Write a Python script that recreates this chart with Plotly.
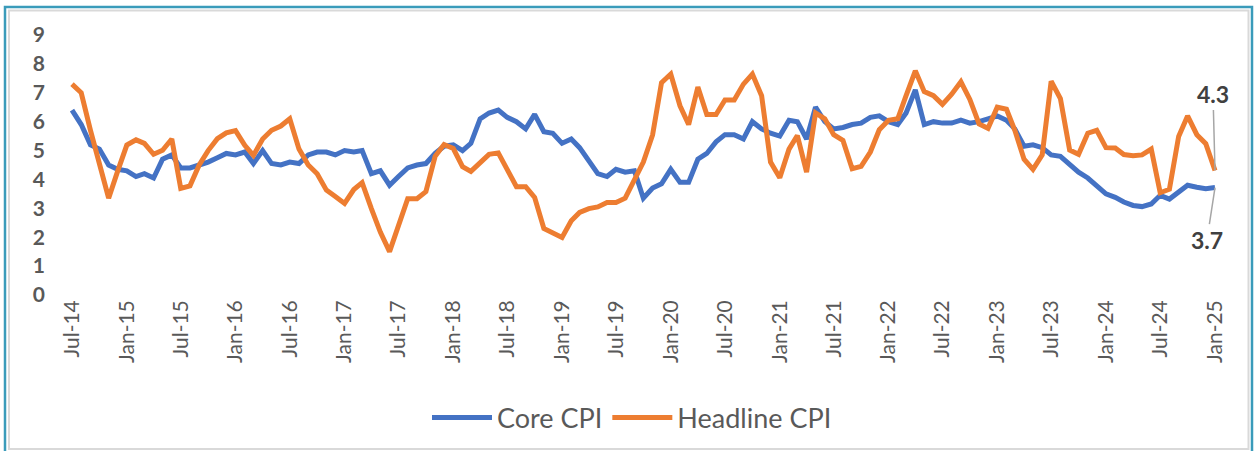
import pandas as pd
import plotly.graph_objects as go

# ---------------- data ----------------
start_month = "2014-07-01"
n_months = 127
months = pd.date_range(start_month, periods=n_months, freq="MS")

core_cpi = [
    6.4, 5.9, 5.2, 5.05, 4.5, 4.35,                                   # 2014 Jul-Dec
    4.3, 4.1, 4.2, 4.05, 4.7, 4.85, 4.4, 4.4, 4.5, 4.6, 4.75, 4.9,     # 2015
    4.85, 4.95, 4.55, 5.0, 4.55, 4.5, 4.6, 4.55, 4.85, 4.95, 4.95, 4.85,  # 2016
    5.0, 4.95, 5.0, 4.2, 4.3, 3.8, 4.1, 4.4, 4.5, 4.55, 4.9, 5.15,    # 2017
    5.2, 5.0, 5.25, 6.1, 6.3, 6.4, 6.15, 6.0, 5.75, 6.25, 5.65, 5.6,  # 2018
    5.25, 5.4, 5.1, 4.65, 4.2, 4.1, 4.35, 4.25, 4.3, 3.35, 3.7, 3.85, # 2019
    4.35, 3.9, 3.9, 4.7, 4.9, 5.3, 5.55, 5.55, 5.4, 6.0, 5.75, 5.6,   # 2020
    5.5, 6.05, 6.0, 5.4, 6.5, 6.0, 5.75, 5.8, 5.9, 5.95, 6.15, 6.2,   # 2021
    6.0, 5.9, 6.3, 7.1, 5.9, 6.0, 5.95, 5.95, 6.05, 5.95, 6.0, 6.1,   # 2022
    6.2, 6.05, 5.75, 5.15, 5.2, 5.1, 4.85, 4.8, 4.5, 4.25, 4.05, 3.75,  # 2023
    3.5, 3.38, 3.22, 3.1, 3.06, 3.15, 3.45, 3.32, 3.58, 3.8, 3.73, 3.68,  # 2024
    3.72,                                                              # 2025 Jan
]

headline_cpi = [
    7.3, 7.0, 5.7, 4.6, 3.35, 4.28,                                    # 2014 Jul-Dec
    5.19, 5.37, 5.25, 4.87, 5.01, 5.40, 3.69, 3.78, 4.5, 5.0, 5.41, 5.61,   # 2015
    5.69, 5.18, 4.83, 5.4, 5.7, 5.85, 6.1, 5.05, 4.5, 4.20, 3.63, 3.41,     # 2016
    3.17, 3.65, 3.89, 2.99, 2.18, 1.5, 2.4, 3.33, 3.33, 3.58, 4.8, 5.21,    # 2017
    5.07, 4.44, 4.28, 4.58, 4.87, 4.92, 4.3, 3.75, 3.75, 3.38, 2.3, 2.15,   # 2018
    1.99, 2.57, 2.86, 2.99, 3.05, 3.2, 3.2, 3.35, 3.99, 4.6, 5.54, 7.35,    # 2019
    7.65, 6.55, 5.9, 7.2, 6.25, 6.25, 6.75, 6.75, 7.3, 7.65, 6.9, 4.6,      # 2020
    4.06, 5.05, 5.52, 4.25, 6.3, 6.1, 5.55, 5.35, 4.37, 4.45, 4.95, 5.72,   # 2021
    6.05, 6.1, 6.9, 7.76, 7.04, 6.9, 6.6, 6.95, 7.38, 6.77, 5.92, 5.77,     # 2022
    6.5, 6.43, 5.7, 4.7, 4.35, 4.85, 7.4, 6.8, 5.02, 4.87, 5.6, 5.7,        # 2023
    5.1, 5.09, 4.86, 4.82, 4.85, 5.05, 3.54, 3.66, 5.49, 6.2, 5.55, 5.24,   # 2024
    4.31,                                                               # 2025 Jan
]

series_names = ["Core CPI", "Headline CPI"]
series_colors = ["#4472C4", "#ED7D31"]
y_ticks = list(range(0, 10))

# ---------------- layout geometry ----------------
W, H = 1257, 451
L, R, T, B = 48, 1235, 35, 295          # plot area in pixels
px_per_day = (1215 - 72) / (months[-1] - months[0]).days
x_lo = months[0] - pd.Timedelta(days=(72 - L) / px_per_day)
x_hi = months[-1] + pd.Timedelta(days=(R - 1215) / px_per_day)


def px(xp):
    return (xp - L) / (R - L)


def py(yp):
    return (B - yp) / (B - T)


fig = go.Figure()
for name, vals, col in zip(series_names, [core_cpi, headline_cpi], series_colors):
    fig.add_trace(go.Scatter(
        x=months, y=vals, mode="lines", name=name,
        line=dict(color=col, width=5, shape="linear"),
    ))

font_family = "Lato, 'Open Sans', Arial, sans-serif"

fig.update_layout(
    width=W, height=H,
    margin=dict(l=L, r=W - R, t=T, b=H - B, autoexpand=False),
    paper_bgcolor="white", plot_bgcolor="white",
    font=dict(family=font_family, color="#595959"),
    showlegend=True,
    legend=dict(
        orientation="h", x=px(632), xanchor="center", y=py(418), yanchor="middle",
        font=dict(size=27, color="#595959", family=font_family),
        traceorder="normal", itemwidth=60,
    ),
    xaxis=dict(
        range=[x_lo, x_hi], type="date",
        tick0=start_month, dtick="M6", tickformat="%b-%y",
        tickangle=-90, tickfont=dict(size=21, color="#595959"),
        showgrid=False, zeroline=False, showline=False, ticks="",
        automargin=False,
    ),
    yaxis=dict(
        range=[0, 9], tickvals=y_ticks,
        tickfont=dict(size=21, color="#595959", weight="bold"),
        showgrid=False, zeroline=False, showline=False, ticks="",
        ticklabelstandoff=2, automargin=False,
    ),
)

# data labels for the last points
fig.add_annotation(
    x=months[-1], y=headline_cpi[-1], text="<b>%.1f</b>" % headline_cpi[-1],
    showarrow=True, arrowhead=0, arrowwidth=1.5, arrowcolor="#A6A6A6",
    ax=-2, ay=-76, font=dict(size=23, color="#404040", family=font_family),
)
fig.add_annotation(
    x=months[-1], y=core_cpi[-1], text="<b>%.1f</b>" % core_cpi[-1],
    showarrow=True, arrowhead=0, arrowwidth=1.5, arrowcolor="#A6A6A6",
    ax=-8, ay=52, font=dict(size=23, color="#404040", family=font_family),
)

# chart frame (outer teal border + inner light-grey border)
fig.add_shape(type="rect", xref="paper", yref="paper",
              x0=px(5), x1=px(1252), y0=py(455), y1=py(7),
              line=dict(color="#3A9BBA", width=2.5), fillcolor="rgba(0,0,0,0)", layer="below")
fig.add_shape(type="rect", xref="paper", yref="paper",
              x0=px(9), x1=px(1248.5), y0=py(449), y1=py(10.5),
              line=dict(color="#D9D9D9", width=2), fillcolor="rgba(0,0,0,0)", layer="below")

fig.write_html("out.html",
               config={"displayModeBar": False},
               post_script="document.body.style.margin='0';document.body.style.overflow='hidden';")
